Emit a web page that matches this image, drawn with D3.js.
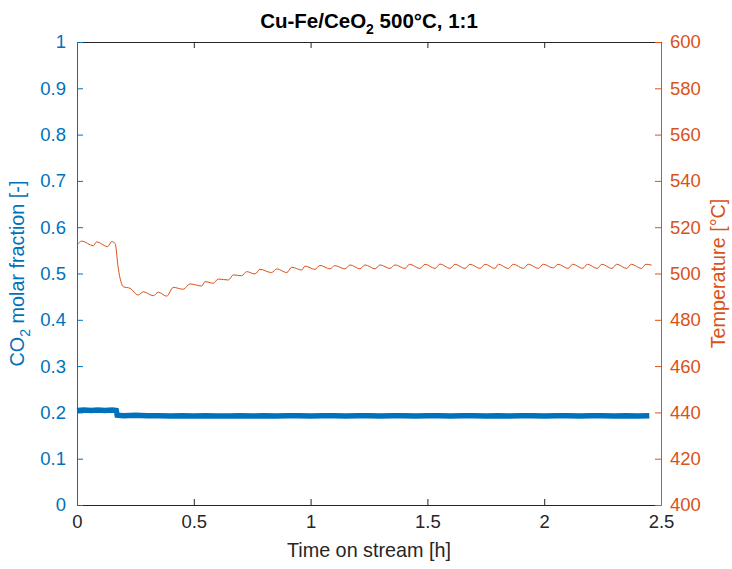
<!DOCTYPE html>
<meta charset="utf-8">
<head>
<script src="https://d3js.org/d3.v7.min.js"></script>
<style>
  body { margin: 0; background: #fff; }
  text { font-family: "Liberation Sans", Arial, sans-serif; }
</style>
</head>
<body>
<svg id="chart" width="732" height="569"></svg>
<script>

// temperature trace (h, °C)
var tempTime = [0, 0.02, 0.07, 0.084, 0.131, 0.149, 0.163, 0.177, 0.198, 0.227, 0.262, 0.284, 0.327, 0.348, 0.384,
  0.412, 0.455, 0.484, 0.534, 0.548, 0.583, 0.605, 0.648, 0.669, 0.705, 0.726, 0.762, 0.783, 0.833, 0.855,
  0.898, 0.919, 0.962, 0.976, 1.019, 1.040, 1.083, 1.104, 1.147, 1.169, 1.211, 1.233, 1.276, 1.297, 1.340,
  1.361, 1.404, 1.423, 1.468, 1.490, 1.533, 1.554, 1.597, 1.618, 1.661, 1.682, 1.725, 1.747, 1.789, 1.804,
  1.846, 1.868, 1.911, 1.932, 1.975, 1.996, 2.039, 2.059, 2.102, 2.122, 2.165, 2.185, 2.227, 2.247, 2.290,
  2.310, 2.353, 2.373, 2.416, 2.436, 2.460];
var tempVal = [512.3, 514, 512, 513.7, 511.6, 513.8, 513, 502, 494.3, 493.6, 490.7, 492.1, 490.4, 491.9, 490.2,
  494, 493.2, 495.5, 494.6, 496.5, 495.8, 497.6, 497.2, 499.4, 499, 500.8, 499.8, 501.8, 500.4, 502,
  500.4, 502.7, 501.5, 503.2, 501.8, 503.5, 502, 503.4, 502, 503.7, 502, 503.7, 502, 503.7, 502.2,
  503.7, 502.2, 504, 502.2, 504, 502.2, 504.1, 502.2, 504, 502.2, 504, 502.2, 504, 502.2, 504,
  502.2, 504, 502.2, 504, 502.2, 504, 502.4, 504, 502.2, 504, 502.2, 504, 502.2, 504, 502.2,
  504, 502.2, 504, 502.2, 504, 503.6];

// CO2 molar fraction trace
var co2Time = [0, 0.03, 0.06, 0.09, 0.12, 0.15, 0.168, 0.172, 0.2, 0.25, 0.3, 0.35, 0.4, 0.45, 0.5, 0.55, 0.6,
  0.65, 0.7, 0.75, 0.8, 0.85, 0.9, 0.95, 1.0, 1.05, 1.1, 1.15, 1.2, 1.25, 1.3, 1.35, 1.4, 1.45, 1.5,
  1.55, 1.6, 1.65, 1.7, 1.75, 1.8, 1.85, 1.9, 1.95, 2.0, 2.05, 2.1, 2.15, 2.2, 2.25, 2.3, 2.35, 2.4, 2.45];
var co2Val = [0.204, 0.205, 0.204, 0.205, 0.204, 0.205, 0.204, 0.194, 0.193, 0.194, 0.193, 0.193, 0.192, 0.193, 0.192, 0.193, 0.192,
  0.192, 0.193, 0.192, 0.193, 0.192, 0.193, 0.193, 0.192, 0.193, 0.193, 0.192, 0.193, 0.193, 0.192, 0.193, 0.193, 0.192, 0.193,
  0.193, 0.192, 0.193, 0.193, 0.192, 0.193, 0.192, 0.193, 0.193, 0.192, 0.193, 0.193, 0.192, 0.193, 0.193, 0.192, 0.193, 0.192, 0.193];

var xTicks = [0, 0.5, 1, 1.5, 2, 2.5];
var leftTicks = [0, 0.1, 0.2, 0.3, 0.4, 0.5, 0.6, 0.7, 0.8, 0.9, 1];
var rightTicks = [400, 420, 440, 460, 480, 500, 520, 540, 560, 580, 600];

var blue = "#0072BD", orange = "#D95319", dark = "#262626";

var svg = d3.select("#chart");
var pL = 77, pR = 661, pT = 42, pB = 505;

var x = d3.scaleLinear().domain([0, 2.5]).range([pL, pR]);
var yL = d3.scaleLinear().domain([0, 1]).range([pB, pT]);
var yR = d3.scaleLinear().domain([400, 600]).range([pB, pT]);

// data lines
var co2Line = d3.line()
  .x(function(d, i) { return x(co2Time[i]); })
  .y(function(d) { return yL(d); });
svg.append("path")
  .attr("d", co2Line(co2Val))
  .attr("fill", "none")
  .attr("stroke", blue)
  .attr("stroke-width", 5.5);

var tempLine = d3.line()
  .x(function(d, i) { return x(tempTime[i]); })
  .y(function(d) { return yR(d); })
  .curve(d3.curveMonotoneX);
svg.append("path")
  .attr("d", tempLine(tempVal))
  .attr("fill", "none")
  .attr("stroke", orange)
  .attr("stroke-width", 1);

// axes, matlab style (ticks inside)
var tl = 6;
function styleAxis(g, col) {
  g.selectAll(".domain").attr("stroke", col);
  g.selectAll(".tick line").attr("stroke", col);
  g.selectAll(".tick text").attr("fill", col).style("font-size", "18.5px");
}

var gx = svg.append("g").attr("transform", "translate(0," + pB + ")")
  .call(d3.axisBottom(x).tickValues(xTicks).tickSizeInner(-tl).tickSizeOuter(0).tickPadding(10).tickFormat(d3.format("")));
styleAxis(gx, dark);

var gxt = svg.append("g").attr("transform", "translate(0," + pT + ")")
  .call(d3.axisTop(x).tickValues(xTicks).tickSizeInner(-tl).tickSizeOuter(0).tickFormat(""));
styleAxis(gxt, dark);

var gl = svg.append("g").attr("transform", "translate(" + pL + ",0)")
  .call(d3.axisLeft(yL).tickValues(leftTicks).tickSizeInner(-tl).tickSizeOuter(0).tickPadding(11).tickFormat(d3.format("")));
styleAxis(gl, blue);

var gr = svg.append("g").attr("transform", "translate(" + pR + ",0)")
  .call(d3.axisRight(yR).tickValues(rightTicks).tickSizeInner(-tl).tickSizeOuter(0).tickPadding(9));
styleAxis(gr, orange);

// labels
svg.append("text")
  .attr("x", (pL + pR) / 2).attr("y", 557)
  .attr("text-anchor", "middle").attr("fill", dark).style("font-size", "19.8px")
  .text("Time on stream [h]");

var ll = svg.append("text")
  .attr("transform", "translate(24," + (pT + pB) / 2 + ") rotate(-90)")
  .attr("text-anchor", "middle").attr("fill", blue).style("font-size", "19.8px");
ll.append("tspan").text("CO");
ll.append("tspan").attr("dy", 6).style("font-size", "14px").text("2");
ll.append("tspan").attr("dy", -6).text(" molar fraction [-]");

svg.append("text")
  .attr("transform", "translate(725," + (pT + pB) / 2 + ") rotate(-90)")
  .attr("text-anchor", "middle").attr("fill", orange).style("font-size", "19.8px")
  .text("Temperature [°C]");

var tt = svg.append("text")
  .attr("x", (pL + pR) / 2).attr("y", 28)
  .attr("text-anchor", "middle").attr("fill", "#000").style("font-size", "20.5px").style("font-weight", "bold");
tt.append("tspan").text("Cu-Fe/CeO");
tt.append("tspan").attr("dy", 6).style("font-size", "14px").text("2");
tt.append("tspan").attr("dy", -6).text(" 500°C, 1:1");

</script>
</body>
